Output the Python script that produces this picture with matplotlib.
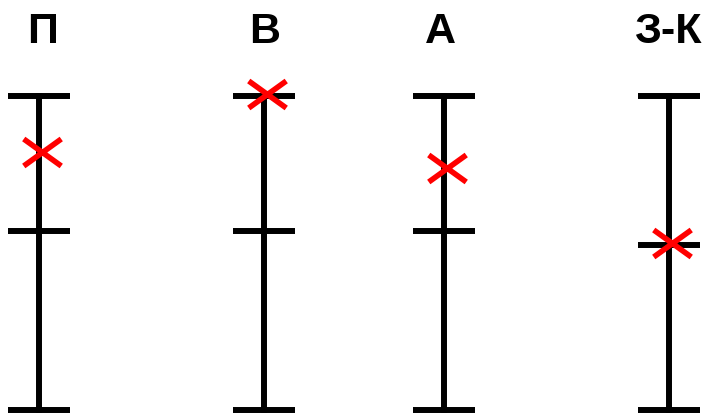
import matplotlib.pyplot as plt
import matplotlib.transforms as mtransforms
from matplotlib.path import Path

# scales and readings (0 = bottom mark, 100 = top mark)
scales = ['П', 'В', 'А', 'З-К']
mid_marks = [57.1, 57.1, 57.1, 52.5]
values = [82.2, 100.6, 77.0, 53.3]

# layout: horizontal placement of each scale and its label, in pixels
x_pos = [39, 264, 444, 669]
label_dx = [4, 1, -4, -1]
half_tick = 31

plt.rcParams['font.family'] = ['Liberation Sans', 'DejaVu Sans']

fig = plt.figure(figsize=(7.04, 4.16), dpi=100)
ax = fig.add_axes([0, 5.7 / 416, 1, 314.6 / 416])
ax.set_xlim(0, 704)
ax.set_ylim(0, 100)
ax.axis('off')

# wide "x" marker
cross = Path([(-1, -0.72), (1, 0.72), (-1, 0.72), (1, -0.72)],
             [Path.MOVETO, Path.LINETO, Path.MOVETO, Path.LINETO])
shift = ax.transData + mtransforms.ScaledTranslation(3 / 100, 0, fig.dpi_scale_trans)
label_tr = mtransforms.blended_transform_factory(ax.transData, fig.transFigure)

lw = 4.3
for name, mid, val, x, dx in zip(scales, mid_marks, values, x_pos, label_dx):
    ax.plot([x, x], [0, 100], color='black', lw=lw,
            solid_capstyle='projecting', clip_on=False)
    for y in (0, mid, 100):
        ax.plot([x - half_tick, x + half_tick], [y, y], color='black', lw=lw,
                solid_capstyle='butt', clip_on=False)
    ax.plot(x, val, marker=cross, markersize=27, markeredgewidth=4.0,
            color='red', linestyle='none', clip_on=False, transform=shift)
    ax.text(x + dx, 1 - 43.3 / 416, name, transform=label_tr,
            ha='center', va='baseline', fontsize=31, fontweight='bold')

fig.savefig('out.png', dpi=100)
